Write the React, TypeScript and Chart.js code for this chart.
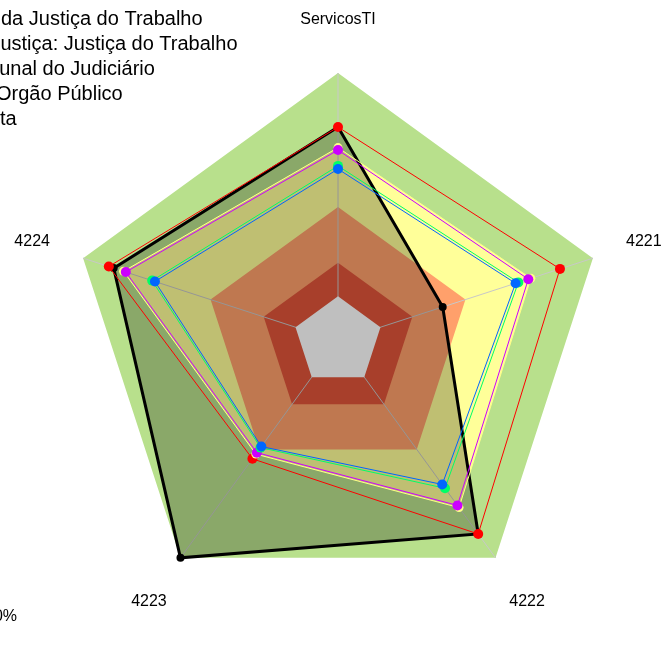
import React, { useEffect, useRef } from "react";
import { Chart, registerables } from "chart.js";

Chart.register(...registerables);

// Axes (clockwise from top)
const AXES = ["ServicosTI", "4221", "4222", "4223", "4224"];

// Scale (fmsb-style: the centre represents an offset below 0%)
const SCALE_MIN = -20;
const SCALE_MAX = 100;
const LABEL_VALUE = 124; // where the axis names sit (1.2 x radius)

// Background bands
const BAND_OUTER = [100, 100, 100, 100, 100];
const BAND_YELLOW = [66.6, 70.8, 72.2, 42.6, 81.0];
const BAND_MID = [40, 40, 40, 40, 40];
const BAND_LOW = [15, 15, 15, 15, 15];
const BAND_CENTER = [0, 0, 0, 0, 0];

// Series
const SERIES_BLACK = [75.8, 29.3, 86.8, 100, 85.6];
const SERIES_RED = [75.8, 84.5, 86.8, 45.2, 87.9];
const SERIES_MAGENTA = [65.5, 69.6, 71.0, 41.8, 79.9];
const SERIES_GREEN = [58.4, 64.9, 61.5, 39.0, 67.5];
const SERIES_BLUE = [57.0, 63.6, 59.4, 38.4, 66.2];

// Legend (partly outside the picture on the left)
const LEGEND_HIDDEN = ["Média ", "Segmento de J", "Média do Trib", "Média do ", "Me"];
const LEGEND_SHOWN = [
  "da Justiça do Trabalho",
  "ustiça: Justiça do Trabalho",
  "unal do Judiciário",
  "Orgão Público",
  "ta",
];
const CORNER_NOTE = "100%";

const GRID_AFTER_INDEX = 3; // draw spokes after the BAND_LOW fill

function band(data: number[], color: string, order: number) {
  return {
    data,
    fill: "start",
    backgroundColor: color,
    borderWidth: 0,
    pointRadius: 0,
    order,
  };
}

function series(data: number[], color: string, width: number, radius: number, order: number) {
  return {
    data,
    fill: false,
    borderColor: color,
    borderWidth: width,
    pointRadius: radius,
    pointBackgroundColor: color,
    pointBorderWidth: 0,
    order,
  };
}

const overlayPlugin = {
  id: "overlay",
  afterDatasetDraw(chart: any, args: any) {
    if (args.index === GRID_AFTER_INDEX) {
      chart.scales.r.drawGrid();
    }
  },
  afterDraw(chart: any) {
    const ctx = chart.ctx;
    const r = chart.scales.r;
    ctx.save();
    ctx.fillStyle = "#000000";
    ctx.font = '16px "Liberation Sans", Arial, sans-serif';
    ctx.textAlign = "center";
    ctx.textBaseline = "middle";
    AXES.forEach((lab, i) => {
      const p = r.getPointPositionForValue(i, LABEL_VALUE);
      ctx.fillText(lab, p.x, p.y);
    });
    ctx.textAlign = "right";
    ctx.fillText(CORNER_NOTE, 17, 617);

    ctx.font = '20px "Liberation Sans", Arial, sans-serif';
    ctx.textAlign = "left";
    ctx.textBaseline = "alphabetic";
    const starts = [1, 0.4, -0.8, -4, 0];
    LEGEND_SHOWN.forEach((txt, i) => {
      const hidden = LEGEND_HIDDEN[i];
      const w = ctx.measureText(hidden).width;
      ctx.fillText(hidden + txt, starts[i] - w, 25 + i * 25);
    });
    ctx.restore();
  },
};

export default function App() {
  const ref = useRef<HTMLCanvasElement | null>(null);

  useEffect(() => {
    if (!ref.current) return;
    const chart = new Chart(ref.current, {
      type: "radar",
      data: {
        labels: AXES,
        datasets: [
          band(BAND_OUTER, "#b8e08c", 20),
          band(BAND_YELLOW, "#ffff99", 19),
          band(BAND_MID, "#ffa06b", 18),
          band(BAND_LOW, "#e0553a", 17),
          band(BAND_CENTER, "#ffffff", 16),
          {
            ...series(SERIES_BLACK, "#000000", 3, 4, 15),
            fill: "start",
            backgroundColor: "rgba(0,0,0,0.25)",
          },
          series(SERIES_RED, "#ff0000", 1, 5, 14),
          series(BAND_YELLOW, "#ffff88", 1, 4.5, 13),
          series(SERIES_MAGENTA, "#cc00ff", 1, 5, 12),
          series(SERIES_GREEN, "#00ff66", 1, 5, 11),
          series(SERIES_BLUE, "#0066ff", 1, 5, 10),
        ] as any,
      },
      options: {
        animation: false,
        responsive: true,
        maintainAspectRatio: false,
        events: [],
        layout: { padding: { left: 70, right: 58, top: 73, bottom: 59 } },
        plugins: {
          legend: { display: false },
          tooltip: { enabled: false },
        },
        elements: { line: { tension: 0 } },
        scales: {
          r: {
            min: SCALE_MIN,
            max: SCALE_MAX,
            ticks: { display: false },
            grid: { display: false },
            angleLines: { display: true, color: "#c8c8c8", lineWidth: 1 },
            pointLabels: { display: false },
          },
        },
      } as any,
      plugins: [overlayPlugin],
    });
    return () => chart.destroy();
  }, []);

  return (
    <div style={{ position: "fixed", left: 0, top: 0, width: 664, height: 668 }}>
      <canvas ref={ref} />
    </div>
  );
}
